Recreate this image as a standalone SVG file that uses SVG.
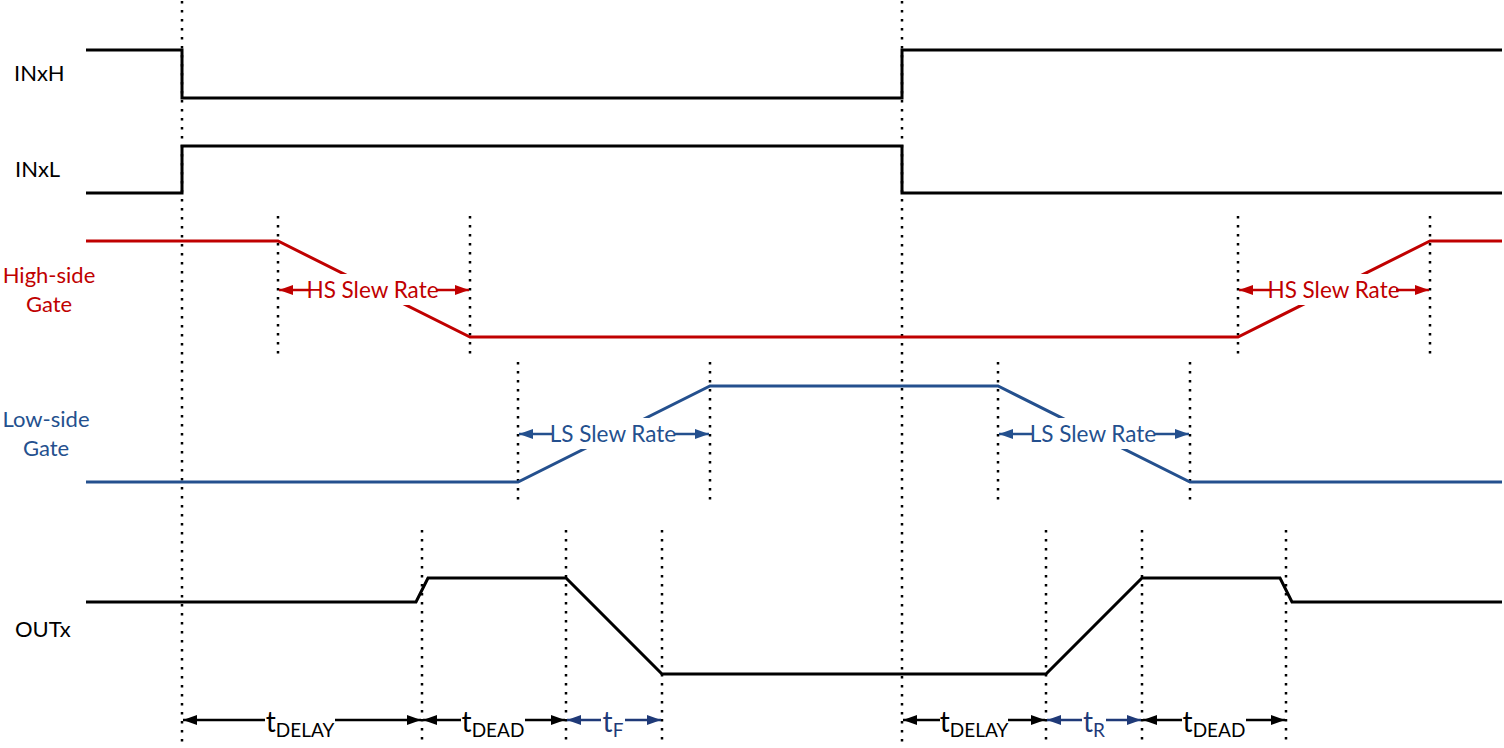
<svg xmlns="http://www.w3.org/2000/svg" width="1504" height="748" viewBox="0 0 1504 748">
<style>
.bg{fill:#ffffff}
.sig{fill:none;stroke-width:3;stroke-linejoin:miter}
.blk{stroke:#000000}
.red{stroke:#C00000}
.blu{stroke:#24508E}
.dot{fill:none;stroke:#000000;stroke-width:2.5;stroke-dasharray:2.5 6.5}
.lbl{font-family:Lato,"Liberation Sans",sans-serif;font-size:22px}
.slew{font-family:Lato,"Liberation Sans",sans-serif;font-size:22.5px}
.tm{font-family:Lato,"Liberation Sans",sans-serif;font-size:28px}
.ts{font-size:19px}
.arr{fill:none;stroke-width:2.5}
</style>
<defs>
<marker id="ak" viewBox="0 0 14 10" refX="14" refY="5" markerWidth="14" markerHeight="10" markerUnits="userSpaceOnUse" orient="auto-start-reverse"><path d="M0,0 L14,5 L0,10 Z" fill="#000000"/></marker>
<marker id="ar" viewBox="0 0 14 10" refX="14" refY="5" markerWidth="14" markerHeight="10" markerUnits="userSpaceOnUse" orient="auto-start-reverse"><path d="M0,0 L14,5 L0,10 Z" fill="#C00000"/></marker>
<marker id="ab" viewBox="0 0 14 10" refX="14" refY="5" markerWidth="14" markerHeight="10" markerUnits="userSpaceOnUse" orient="auto-start-reverse"><path d="M0,0 L14,5 L0,10 Z" fill="#24508E"/></marker>
<marker id="an" viewBox="0 0 14 10" refX="14" refY="5" markerWidth="14" markerHeight="10" markerUnits="userSpaceOnUse" orient="auto-start-reverse"><path d="M0,0 L14,5 L0,10 Z" fill="#1F3A78"/></marker>
</defs>
<rect class="bg" x="0" y="0" width="1504" height="748"/>

<g id="guides">
<line class="dot" x1="182" y1="1" x2="182" y2="742"/>
<line class="dot" x1="902" y1="1" x2="902" y2="742"/>
<line class="dot" x1="278" y1="216" x2="278" y2="356"/>
<line class="dot" x1="470" y1="216" x2="470" y2="356"/>
<line class="dot" x1="1238" y1="216" x2="1238" y2="356"/>
<line class="dot" x1="1430" y1="216" x2="1430" y2="356"/>
<line class="dot" x1="518" y1="362" x2="518" y2="502"/>
<line class="dot" x1="710" y1="362" x2="710" y2="502"/>
<line class="dot" x1="998" y1="362" x2="998" y2="502"/>
<line class="dot" x1="1190" y1="362" x2="1190" y2="502"/>
<line class="dot" x1="422" y1="530" x2="422" y2="742"/>
<line class="dot" x1="566" y1="530" x2="566" y2="742"/>
<line class="dot" x1="662" y1="530" x2="662" y2="742"/>
<line class="dot" x1="1046" y1="530" x2="1046" y2="742"/>
<line class="dot" x1="1142" y1="530" x2="1142" y2="742"/>
<line class="dot" x1="1286" y1="530" x2="1286" y2="742"/>
</g>

<g id="inxh">
<polyline class="sig blk" points="86,50 182,50 182,98 902,98 902,50 1502,50"/>
<text class="lbl" x="14" y="81">INxH</text>
</g>
<g id="inxl">
<polyline class="sig blk" points="86,193 182,193 182,146 902,146 902,193 1502,193"/>
<text class="lbl" x="15" y="177">INxL</text>
</g>
<g id="hsgate">
<polyline class="sig red" points="86,241 278,241 470,337 1238,337 1430,241 1502,241"/>
<text class="lbl" x="49" y="283" text-anchor="middle" fill="#C00000">High-side</text>
<text class="lbl" x="49" y="312" text-anchor="middle" fill="#C00000">Gate</text>
</g>
<g id="lsgate">
<polyline class="sig blu" points="86,482 518,482 710,386 998,386 1190,482 1502,482"/>
<text class="lbl" x="46" y="427" text-anchor="middle" fill="#24508E">Low-side</text>
<text class="lbl" x="46" y="456" text-anchor="middle" fill="#24508E">Gate</text>
</g>
<g id="outx">
<polyline class="sig blk" points="86,602 416,602 428,578 566,578 662,674 1046,674 1142,578 1280,578 1292,602 1502,602"/>
<text class="lbl" x="15" y="637">OUTx</text>
</g>

<g id="connectors">
<g id="hs-slew-1">
<rect class="bg" x="309" y="274" width="128" height="31"/>
<line class="arr red" x1="309" y1="290" x2="279" y2="290" marker-end="url(#ar)"/>
<line class="arr red" x1="436" y1="290" x2="469" y2="290" marker-end="url(#ar)"/>
<text class="slew" x="372.5" y="298" text-anchor="middle" fill="#C00000">HS Slew Rate</text>
</g>
<g id="hs-slew-2">
<rect class="bg" x="1270" y="274" width="127" height="31"/>
<line class="arr red" x1="1270" y1="290" x2="1239" y2="290" marker-end="url(#ar)"/>
<line class="arr red" x1="1396" y1="290" x2="1429" y2="290" marker-end="url(#ar)"/>
<text class="slew" x="1333.5" y="298" text-anchor="middle" fill="#C00000">HS Slew Rate</text>
</g>
<g id="ls-slew-1">
<rect class="bg" x="552" y="418" width="122" height="31"/>
<line class="arr blu" x1="552" y1="434" x2="519" y2="434" marker-end="url(#ab)"/>
<line class="arr blu" x1="674" y1="434" x2="709" y2="434" marker-end="url(#ab)"/>
<text class="slew" x="613" y="442" text-anchor="middle" fill="#24508E">LS Slew Rate</text>
</g>
<g id="ls-slew-2">
<rect class="bg" x="1032" y="418" width="122" height="31"/>
<line class="arr blu" x1="1032" y1="434" x2="999" y2="434" marker-end="url(#ab)"/>
<line class="arr blu" x1="1154" y1="434" x2="1189" y2="434" marker-end="url(#ab)"/>
<text class="slew" x="1093" y="442" text-anchor="middle" fill="#24508E">LS Slew Rate</text>
</g>

<g id="t-delay-1">
<line class="arr blk" x1="265" y1="720" x2="183" y2="720" marker-end="url(#ak)"/>
<line class="arr blk" x1="335" y1="720" x2="421" y2="720" marker-end="url(#ak)"/>
<text class="tm" x="300" y="732" text-anchor="middle">t<tspan class="ts" dy="5">DELAY</tspan></text>
</g>
<g id="t-dead-1">
<line class="arr blk" x1="461" y1="720" x2="423" y2="720" marker-end="url(#ak)"/>
<line class="arr blk" x1="525" y1="720" x2="565" y2="720" marker-end="url(#ak)"/>
<text class="tm" x="493" y="732" text-anchor="middle">t<tspan class="ts" dy="5">DEAD</tspan></text>
</g>
<g id="t-f">
<line class="arr" stroke="#1F3A78" x1="601" y1="720" x2="567" y2="720" marker-end="url(#an)"/>
<line class="arr" stroke="#1F3A78" x1="625" y1="720" x2="661" y2="720" marker-end="url(#an)"/>
<text class="tm" x="613" y="732" text-anchor="middle" fill="#1F3A78">t<tspan class="ts" dy="5">F</tspan></text>
</g>
<g id="t-delay-2">
<line class="arr blk" x1="940" y1="720" x2="903" y2="720" marker-end="url(#ak)"/>
<line class="arr blk" x1="1008" y1="720" x2="1045" y2="720" marker-end="url(#ak)"/>
<text class="tm" x="974" y="732" text-anchor="middle">t<tspan class="ts" dy="5">DELAY</tspan></text>
</g>
<g id="t-r">
<line class="arr" stroke="#1F3A78" x1="1082" y1="720" x2="1047" y2="720" marker-end="url(#an)"/>
<line class="arr" stroke="#1F3A78" x1="1106" y1="720" x2="1141" y2="720" marker-end="url(#an)"/>
<text class="tm" x="1094" y="732" text-anchor="middle" fill="#1F3A78">t<tspan class="ts" dy="5">R</tspan></text>
</g>
<g id="t-dead-2">
<line class="arr blk" x1="1182" y1="720" x2="1143" y2="720" marker-end="url(#ak)"/>
<line class="arr blk" x1="1246" y1="720" x2="1285" y2="720" marker-end="url(#ak)"/>
<text class="tm" x="1214" y="732" text-anchor="middle">t<tspan class="ts" dy="5">DEAD</tspan></text>
</g>
</g>
</svg>
